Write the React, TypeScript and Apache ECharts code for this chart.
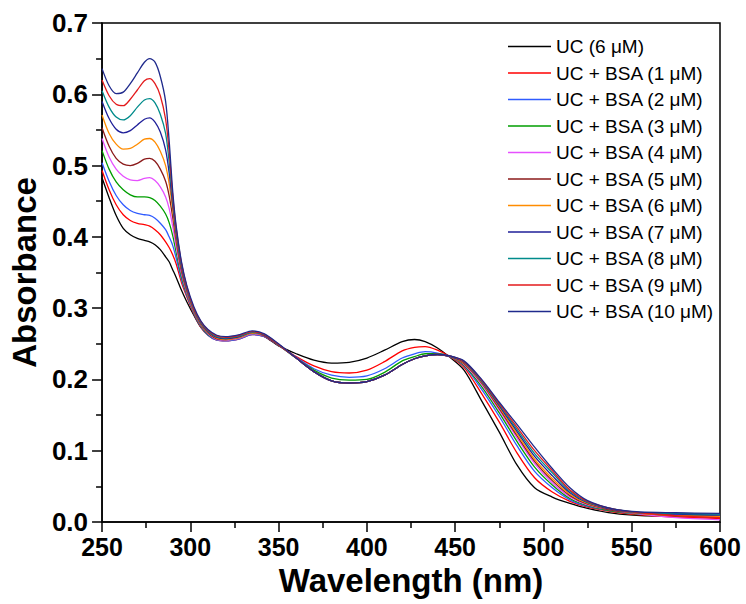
import React, { useEffect, useRef } from "react";
import * as echarts from "echarts";

const wavelengths = [250,254,258,262,266,270,274,277,280,283,286,288,290,292,295,298,302,306,310,315,320,328,335,342,350,360,370,380,390,400,410,420,427,433,440,447,455,465,475,485,495,505,515,525,540,555,575,600];

const seriesNames = [
  "UC (6 \u03bcM)",
  "UC + BSA (1 \u03bcM)",
  "UC + BSA (2 \u03bcM)",
  "UC + BSA (3 \u03bcM)",
  "UC + BSA (4 \u03bcM)",
  "UC + BSA (5 \u03bcM)",
  "UC + BSA (6 \u03bcM)",
  "UC + BSA (7 \u03bcM)",
  "UC + BSA (8 \u03bcM)",
  "UC + BSA (9 \u03bcM)",
  "UC + BSA (10 \u03bcM)",
];

const seriesColors = ["#000000","#ff0000","#2f5bff","#009e00","#e650ff","#8b1a1a","#ff8c00","#1f1f99","#008b8b","#e31a1c","#1f2a8c"];

const uc0 = [.483,.455,.430,.412,.403,.398,.395,.393,.389,.382,.372,.365,.354,.343,.325,.309,.290,.273,.263,.257,.257,.261,.265,.260,.247,.236,.227,.223,.224,.230,.241,.253,.256,.253,.244,.231,.213,.170,.126,.080,.048,.035,.026,.019,.012,.009,.008,.007];
const bsa1 = [.493,.466,.445,.431,.423,.419,.417,.415,.410,.403,.393,.385,.375,.362,.336,.316,.292,.273,.262,.255,.254,.257,.263,.260,.248,.232,.219,.211,.209,.213,.225,.240,.245,.246,.241,.232,.217,.180,.140,.097,.062,.042,.029,.021,.014,.010,.007,.005];
const bsa2 = [.504,.478,.458,.445,.437,.433,.431,.430,.426,.419,.410,.400,.388,.370,.340,.318,.293,.274,.262,.255,.254,.257,.263,.260,.248,.231,.215,.206,.203,.205,.215,.230,.236,.239,.237,.232,.219,.186,.148,.107,.071,.048,.031,.022,.015,.011,.010,.009];
const bsa3 = [.521,.495,.477,.466,.459,.456,.456,.455,.451,.443,.432,.420,.402,.378,.344,.320,.294,.275,.263,.256,.255,.258,.264,.261,.248,.230,.213,.202,.199,.200,.210,.226,.232,.236,.236,.232,.220,.190,.153,.113,.077,.052,.033,.023,.015,.011,.009,.008];
const bsa4 = [.538,.512,.495,.485,.480,.479,.482,.483,.479,.470,.456,.440,.415,.386,.348,.322,.295,.276,.264,.256,.255,.258,.264,.261,.248,.230,.211,.198,.195,.197,.206,.221,.229,.233,.235,.232,.221,.193,.157,.118,.082,.055,.035,.024,.016,.011,.006,.003];
const bsa5 = [.553,.527,.510,.502,.500,.503,.509,.510,.506,.495,.478,.458,.428,.394,.352,.324,.296,.277,.265,.257,.256,.259,.265,.261,.248,.230,.211,.198,.195,.197,.206,.221,.229,.233,.235,.232,.222,.195,.159,.121,.085,.058,.037,.025,.016,.012,.009,.008];
const bsa6 = [.571,.545,.530,.523,.524,.530,.537,.538,.533,.520,.500,.475,.438,.400,.356,.326,.297,.278,.266,.258,.256,.259,.265,.262,.249,.230,.211,.198,.195,.197,.206,.221,.229,.233,.235,.232,.223,.196,.161,.124,.088,.061,.039,.026,.017,.012,.009,.008];
const bsa7 = [.590,.566,.551,.546,.549,.557,.565,.567,.561,.547,.522,.490,.445,.404,.358,.327,.298,.279,.267,.259,.257,.260,.266,.262,.249,.230,.211,.198,.195,.197,.206,.221,.229,.233,.235,.232,.224,.197,.163,.127,.092,.065,.041,.027,.017,.013,.011,.010];
const bsa8 = [.605,.582,.568,.564,.570,.582,.592,.594,.588,.572,.545,.505,.452,.408,.361,.329,.299,.280,.268,.260,.258,.261,.266,.263,.249,.230,.211,.198,.195,.197,.206,.221,.229,.233,.235,.233,.225,.198,.165,.130,.096,.069,.043,.028,.018,.013,.012,.011];
const bsa9 = [.620,.598,.586,.584,.593,.606,.619,.622,.615,.598,.565,.520,.458,.412,.363,.330,.300,.281,.269,.261,.259,.262,.267,.263,.249,.230,.211,.198,.195,.197,.206,.221,.229,.233,.235,.233,.225,.199,.166,.133,.100,.072,.045,.029,.018,.013,.009,.006];
const bsa10 = [.636,.612,.601,.603,.615,.630,.645,.650,.645,.625,.590,.535,.465,.415,.365,.332,.302,.282,.270,.262,.260,.263,.268,.264,.250,.230,.211,.198,.195,.197,.206,.221,.229,.233,.235,.233,.226,.200,.168,.137,.105,.075,.048,.030,.018,.014,.013,.012];

const allSeries = [uc0, bsa1, bsa2, bsa3, bsa4, bsa5, bsa6, bsa7, bsa8, bsa9, bsa10];

const xTicks = [250, 300, 350, 400, 450, 500, 550, 600];
const yTicks = [0, 0.1, 0.2, 0.3, 0.4, 0.5, 0.6, 0.7];

export default function App() {
  const ref = useRef<HTMLDivElement>(null);
  useEffect(() => {
    if (!ref.current) return;
    const chart = echarts.init(ref.current, null, { renderer: "svg" });
    const font = "'Liberation Sans', Arial, sans-serif";
    chart.setOption({
      animation: false,
      backgroundColor: "#ffffff",
      grid: {
        left: 100,
        right: 26,
        top: 23,
        bottom: 82,
        show: true,
        borderColor: "#000",
        borderWidth: 1.5,
        backgroundColor: "transparent",
      },
      legend: {
        orient: "vertical",
        left: 503,
        top: 32,
        itemWidth: 43,
        itemHeight: 18,
        itemGap: 7.5,
        icon: "path://M0,0 L43,0 L43,1.4 L0,1.4 Z",
        symbolKeepAspect: true,
        data: seriesNames,
        textStyle: {
          fontFamily: font,
          fontSize: 19,
          lineHeight: 18,
          color: "#000",
        },
      },
      xAxis: {
        type: "value",
        min: xTicks[0],
        max: xTicks[xTicks.length - 1],
        interval: 50,
        name: "Wavelength (nm)",
        nameLocation: "middle",
        nameGap: 40,
        nameTextStyle: { fontFamily: font, fontWeight: "bold", fontSize: 33, color: "#000" },
        axisLine: { lineStyle: { color: "#000", width: 1.5 } },
        axisTick: { show: true, length: 10, lineStyle: { color: "#000", width: 1.5 } },
        minorTick: { show: true, splitNumber: 2, length: 6, lineStyle: { color: "#000", width: 1.5 } },
        splitLine: { show: false },
        axisLabel: {
          margin: 12,
          fontFamily: font,
          fontWeight: "bold",
          fontSize: 25,
          color: "#000",
          formatter: (v: number) => String(Math.round(v)),
        },
      },
      yAxis: {
        type: "value",
        min: yTicks[0],
        max: yTicks[yTicks.length - 1],
        interval: 0.1,
        name: "Absorbance",
        nameLocation: "middle",
        nameGap: 56,
        nameTextStyle: { fontFamily: font, fontWeight: "bold", fontSize: 33, color: "#000" },
        axisLine: { show: true, lineStyle: { color: "#000", width: 1.5 } },
        axisTick: { show: true, length: 10, lineStyle: { color: "#000", width: 1.5 } },
        minorTick: { show: true, splitNumber: 2, length: 6, lineStyle: { color: "#000", width: 1.5 } },
        splitLine: { show: false },
        axisLabel: {
          margin: 14,
          fontFamily: font,
          fontWeight: "bold",
          fontSize: 26,
          color: "#000",
          formatter: (v: number) => v.toFixed(1),
        },
      },
      series: allSeries.map((vals, i) => ({
        name: seriesNames[i],
        type: "line",
        symbol: "none",
        smooth: 0.3,
        color: seriesColors[i],
        lineStyle: { width: 1.3, color: seriesColors[i] },
        data: wavelengths.map((w, j) => [w, vals[j]]),
        z: 2 + i,
      })),
    });
    return () => chart.dispose();
  }, []);
  return (
    <div
      ref={ref}
      style={{ position: "fixed", left: 0, top: 0, width: 746, height: 604 }}
    />
  );
}
